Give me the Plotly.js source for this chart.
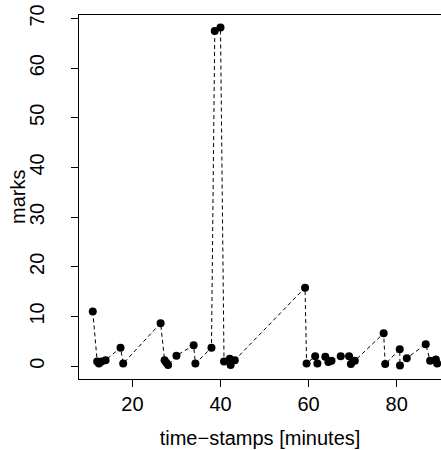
<!DOCTYPE html>
<html>
<head>
<meta charset="utf-8">
<script src="https://cdn.plot.ly/plotly-3.0.1.min.js"></script>
<style>html,body{margin:0;padding:0;background:#fff;}#chart{width:441px;height:450px;}</style>
</head>
<body>
<div id="chart"></div>
<script>
const timeStamps = [11.0, 12.0, 12.4, 13.0, 13.9, 17.3, 17.9, 26.4, 27.3, 27.7, 28.1, 30.0, 33.9, 34.3, 37.95, 38.7, 40.0, 40.8, 42.1, 42.3, 43.25, 59.2, 59.55, 61.5, 62.0, 63.8, 64.5, 65.2, 67.3, 69.2, 69.6, 70.5, 77.05, 77.4, 80.7, 80.75, 82.3, 86.6, 87.6, 88.9, 89.2];
const marks = [11.0, 0.9, 0.5, 0.9, 1.2, 3.7, 0.5, 8.65, 1.2, 0.66, 0.2, 2.1, 4.2, 0.5, 3.7, 67.5, 68.2, 0.9, 1.5, 0.2, 1.2, 15.8, 0.5, 2.0, 0.5, 1.9, 0.8, 1.07, 2.0, 2.0, 0.4, 1.07, 6.6, 0.4, 3.4, 0.14, 1.6, 4.4, 1.07, 1.35, 0.5];
const xTicks = [20, 40, 60, 80];
const yTicks = [0, 10, 20, 30, 40, 50, 60, 70];
const xTitle = 'time\u2212stamps [minutes]';
const yTitle = 'marks';

const font = {family: 'Liberation Sans, Arial, Helvetica, sans-serif', size: 20, color: '#000'};

Plotly.newPlot('chart', [{
  x: timeStamps, y: marks, type: 'scatter', mode: 'lines+markers',
  line: {color: '#000', width: 1, dash: '4px,3px'},
  marker: {color: '#000', size: 8},
  cliponaxis: true, hoverinfo: 'none'
}], {
  width: 441, height: 450,
  margin: {l: 79, r: 0, t: 15, b: 71},
  paper_bgcolor: '#fff', plot_bgcolor: '#fff',
  showlegend: false, font: font,
  xaxis: {
    range: [7.87, 90.07], tickvals: xTicks, ticktext: xTicks.map(String),
    showgrid: false, zeroline: false, showline: true, mirror: true,
    linecolor: '#000', linewidth: 1, ticks: 'outside', ticklen: 7, tickcolor: '#000',
    tickfont: font,
    title: {text: xTitle, font: font, standoff: 16}
  },
  yaxis: {
    range: [-2.6, 70.7], tickvals: yTicks, ticktext: yTicks.map(String),
    showgrid: false, zeroline: false, showline: true, mirror: false,
    linecolor: '#000', linewidth: 1, ticks: 'outside', ticklen: 7, tickcolor: '#000',
    tickangle: -90, tickfont: font, ticklabelstandoff: 19
  },
  annotations: [{
    text: yTitle, font: font, textangle: -90,
    xref: 'paper', yref: 'paper', x: 0, y: 0.5,
    xanchor: 'center', yanchor: 'middle', xshift: -61, showarrow: false
  }]
}, {staticPlot: true});
</script>
</body>
</html>
